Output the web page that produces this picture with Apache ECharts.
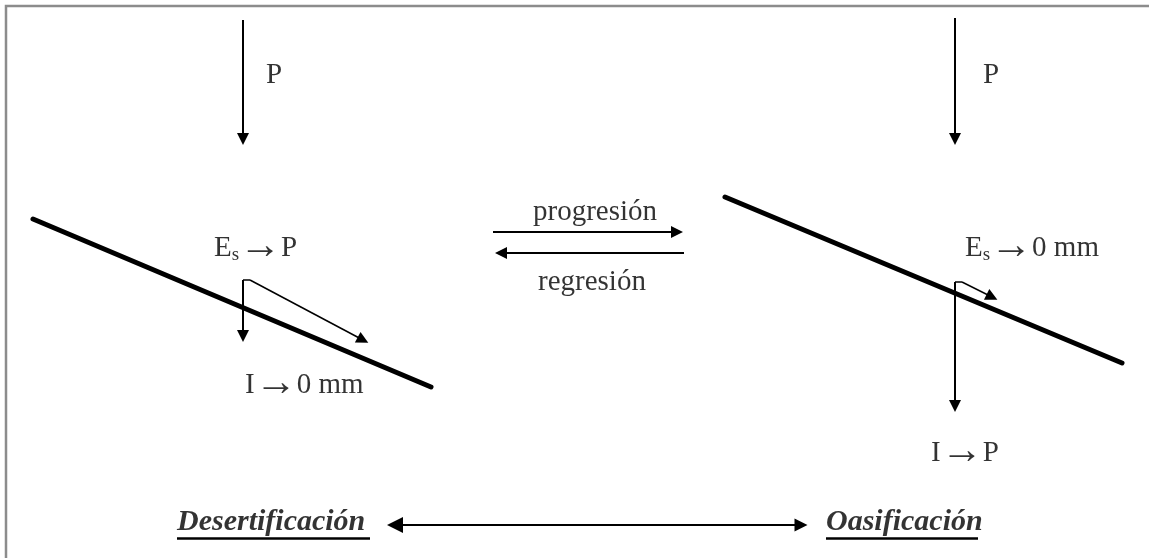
<!DOCTYPE html>
<html>
<head>
<meta charset="utf-8">
<script src="https://cdn.jsdelivr.net/npm/echarts@6/dist/echarts.min.js"></script>
<style>html,body{margin:0;padding:0;background:#fff}#c{width:1149px;height:558px}</style>
</head>
<body>
<div id="c"></div>
<script>
// Diagram geometry in page-like units (x right, y down); arrow shafts end where the head's centre sits
const frame = [[6,558],[6,6],[1149,6]];
const slopes = [[[33,219],[431,387]], [[725,197],[1122,363]]];
const rainArrows = [[[243,20],[243,139]], [[955,18],[955,139]]];
const infiltrationArrows = [[[243,280],[243,336]], [[955,282],[955,406]]];
const runoffArrows = [[[243,280],[250,280],[363,340]], [[955,282],[962,282],[992,297]]];
const transitionArrows = [[[493,232],[677,232]], [[684,253],[501,253]]];
const spectrumArrow = [[395,525],[801,525]];
const underlines = [[[177,538],[370,538]], [[826,538],[978,538]]];
const labels = [
  [266,75,'{n|P}'],[983,75,'{n|P}'],
  [214,248,'{n|E}{s|s}{a|→}{n|P}'],
  [965,248,'{n|E}{s|s}{a|→}{n|0 mm}'],
  [245,385,'{n|I}{a|→}{n|0 mm}'],
  [931,453,'{n|I}{a|→}{n|P}'],
  [533,212,'{n|progresión}'],
  [538,282,'{n|regresión}']
];
const titles = [[177,522,'Desertificación'],[826,522,'Oasificación']];

const font = 'Liberation Serif';
const chart = echarts.init(document.getElementById('c'));
function seg(list){return list.map(c=>({coords:c}));}
// runoff: bent part without head, last leg with head
const runoffBends = runoffArrows.map(a=>a.slice(0,a.length-1));
const runoffLegs = runoffArrows.map(a=>a.slice(a.length-2));
const base = {type:'lines',coordinateSystem:'cartesian2d',silent:true};
chart.setOption({
  backgroundColor:'#fff',
  animation:false,
  grid:{left:0,right:0,top:0,bottom:0},
  xAxis:{type:'value',min:0,max:1149,show:false},
  yAxis:{type:'value',min:0,max:558,inverse:true,show:false},
  series:[
    Object.assign({},base,{polyline:true,lineStyle:{color:'#8c8c8c',width:2.5,opacity:1},symbol:'none',data:seg([frame])}),
    Object.assign({},base,{lineStyle:{color:'#000',width:5,opacity:1,cap:'round'},symbol:'none',data:seg(slopes)}),
    Object.assign({},base,{lineStyle:{color:'#000',width:2,opacity:1},symbol:['none','triangle'],symbolSize:[16,12],
     data:seg(rainArrows.concat(infiltrationArrows))}),
    Object.assign({},base,{lineStyle:{color:'#000',width:1.5,opacity:1},symbol:'none',data:seg(runoffBends)}),
    Object.assign({},base,{lineStyle:{color:'#000',width:1.5,opacity:1},symbol:['none','triangle'],symbolSize:[15,12],
     data:seg(runoffLegs)}),
    Object.assign({},base,{lineStyle:{color:'#000',width:2,opacity:1},symbol:['none','triangle'],symbolSize:[14,12],
     data:seg(transitionArrows)}),
    Object.assign({},base,{lineStyle:{color:'#000',width:2,opacity:1},symbol:['triangle','triangle'],symbolSize:[16,13],
     data:seg([spectrumArrow])}),
    Object.assign({},base,{lineStyle:{color:'#000',width:2.5,opacity:1},symbol:'none',data:seg(underlines)}),
    {type:'scatter',symbolSize:0,silent:true,
     data:labels.map(l=>({value:[l[0],l[1]],name:l[2]})),
     label:{show:true,position:'right',distance:0,fontFamily:font,fontSize:29,color:'#000',
       formatter:p=>p.name,
       rich:{n:{fontFamily:font,fontSize:29,color:'#000',lineHeight:34},
             a:{fontFamily:font,fontSize:42,color:'#000',lineHeight:34,padding:[0,0,3,0]},
             s:{fontFamily:font,fontSize:19,color:'#000',verticalAlign:'bottom',lineHeight:34,padding:[12,0,0,0]}}}},
    {type:'scatter',symbolSize:0,silent:true,
     data:titles.map(l=>({value:[l[0],l[1]],name:l[2]})),
     label:{show:true,position:'right',distance:0,fontFamily:font,fontSize:30,color:'#000',
       fontWeight:'bold',fontStyle:'italic',formatter:p=>p.name}}
  ]
});
</script>
</body>
</html>
